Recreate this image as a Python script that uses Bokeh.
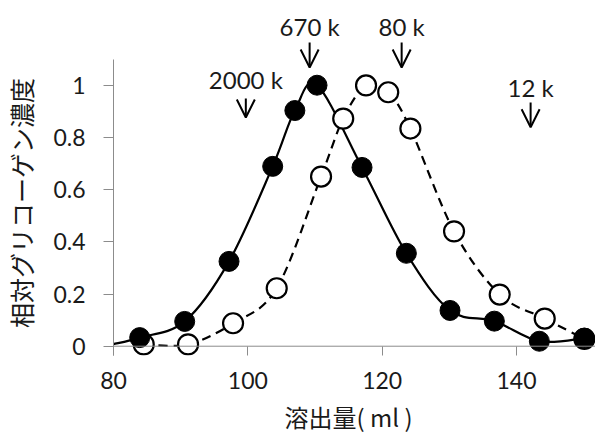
import numpy as np
from bokeh.plotting import figure
from bokeh.models import Span, Label, Arrow, OpenHead, FixedTicker, ColumnDataSource
from bokeh.embed import file_html
from bokeh.resources import INLINE

# ---- data ----
filled_x = [83.9, 90.6, 97.2, 103.7, 107.0, 110.3, 117.0, 123.6, 130.1, 136.7, 143.4, 150.1]
filled_y = [0.033, 0.095, 0.325, 0.689, 0.903, 1.0, 0.685, 0.356, 0.137, 0.096, 0.019, 0.031]
filled_line_start = (80.0, 0.008)

open_x = [84.5, 91.1, 97.8, 104.3, 110.9, 114.2, 117.6, 120.9, 124.2, 130.7, 137.5, 144.2, 150.1]
open_y = [0.007, 0.007, 0.088, 0.222, 0.65, 0.872, 0.999, 0.973, 0.834, 0.44, 0.198, 0.106, 0.028]

x_ticks = [80, 100, 120, 140]
y_ticks = [0, 0.2, 0.4, 0.6, 0.8, 1.0]
y_tick_labels = ["0", "0.2", "0.4", "0.6", "0.8", "1"]

mw_labels = ["2000 k", "670 k", "80 k", "12 k"]
mw_x = [99.7, 109.2, 122.9, 142.1]
mw_arrow_top = [0.949, 1.164, 1.164, 0.934]
mw_arrow_bottom = [0.876, 1.068, 1.068, 0.839]
mw_text_y = [1.022, 1.225, 1.225, 0.99]

x_title = "溶出量( ml )"
y_title = "相対グリコーゲン濃度"

# ---- helpers ----
def smooth(xs, ys):
    """Catmull-Rom style cubic Bezier segments through the points (like Excel's smoothed line)."""
    pts = np.column_stack([xs, ys]).astype(float)
    prev = np.vstack([pts[:1], pts[:-1]])
    nxt = np.vstack([pts[1:], pts[-1:]])
    tan = (nxt - prev) / 6.0
    a, b = pts[:-1], pts[1:]
    c0 = a + tan[:-1]
    c1 = b - tan[1:]
    return ColumnDataSource(dict(x0=a[:, 0], y0=a[:, 1], x1=b[:, 0], y1=b[:, 1],
                                 cx0=c0[:, 0], cy0=c0[:, 1], cx1=c1[:, 0], cy1=c1[:, 1]))

TXT = "#1a1a1a"
AX = "#8c8c8c"
NUM_FONT = "Lato"
JP_FONT = "Noto Sans CJK JP"

p = figure(width=595, height=436, output_backend="svg", toolbar_location=None,
           x_range=(80, 151.76), y_range=(-0.0356, 1.3245),
           min_border_left=113, min_border_right=0, min_border_top=0, min_border_bottom=81)
p.outline_line_color = None
p.grid.visible = False
p.background_fill_color = "white"
p.border_fill_color = "white"

# axes
xa = p.xaxis[0]
xa.ticker = FixedTicker(ticks=x_ticks)
xa.axis_line_color = None
xa.major_tick_in = 9
xa.major_tick_out = 0
xa.major_tick_line_color = AX
xa.minor_tick_line_color = None
xa.major_label_text_font = NUM_FONT
xa.major_label_text_font_size = "23px"
xa.major_label_text_color = TXT
xa.major_label_standoff = 16
xa.axis_label = x_title + "\u2002"
xa.axis_label_text_font = JP_FONT
xa.axis_label_text_font_size = "24px"
xa.axis_label_text_font_style = "normal"
xa.axis_label_text_color = TXT
xa.axis_label_standoff = 7

ya = p.yaxis[0]
ya.ticker = FixedTicker(ticks=y_ticks)
ya.bounds = (-0.0356, 1.1)
ya.axis_line_color = AX
ya.major_tick_in = 0
ya.major_tick_out = 10
ya.major_tick_line_color = AX
ya.minor_tick_line_color = None
ya.major_label_overrides = {t: l for t, l in zip(y_ticks, y_tick_labels)}
ya.major_label_text_font = NUM_FONT
ya.major_label_text_font_size = "23px"
ya.major_label_text_color = TXT
ya.major_label_standoff = 18
ya.axis_label = y_title + "\u3000\u3000"
ya.axis_label_text_font = JP_FONT
ya.axis_label_text_font_size = "25px"
ya.axis_label_text_font_style = "normal"
ya.axis_label_text_color = TXT
ya.axis_label_standoff = 11

p.add_layout(Span(location=0, dimension="width", line_color=AX, line_width=1))

# lines (dashed first, then solid)
p.bezier(x0="x0", y0="y0", x1="x1", y1="y1", cx0="cx0", cy0="cy0", cx1="cx1", cy1="cy1",
         source=smooth(open_x, open_y), line_color="black", line_width=2.2, line_dash="9 6")
p.bezier(x0="x0", y0="y0", x1="x1", y1="y1", cx0="cx0", cy0="cy0", cx1="cx1", cy1="cy1",
         source=smooth([filled_line_start[0]] + filled_x, [filled_line_start[1]] + filled_y),
         line_color="black", line_width=2.2)

# markers (open, then filled on top)
p.scatter(open_x, open_y, size=20, fill_color="white", line_color="black", line_width=2.2)
p.scatter(filled_x, filled_y, size=20, fill_color="black", line_color="black", line_width=1)

# molecular weight markers
for lab, x, yt, yb, ty in zip(mw_labels, mw_x, mw_arrow_top, mw_arrow_bottom, mw_text_y):
    p.add_layout(Arrow(end=OpenHead(size=18, line_width=2, line_color="black"),
                       x_start=x, y_start=yt, x_end=x, y_end=yb,
                       line_width=2, line_color="black"))
    p.add_layout(Label(x=x, y=ty, text=lab, text_align="center", text_baseline="middle",
                       text_font=NUM_FONT, text_font_size="24px", text_color=TXT))

open("out.html", "w").write(file_html(p, INLINE))
